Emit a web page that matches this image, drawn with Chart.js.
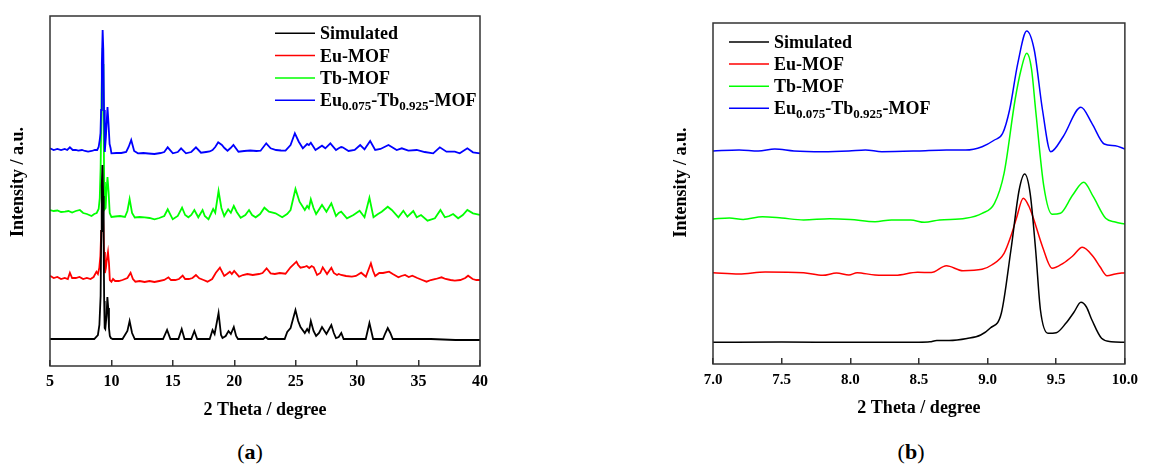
<!DOCTYPE html>
<html>
<head>
<meta charset="utf-8">
<script src="https://cdn.jsdelivr.net/npm/chart.js@4.4.1/dist/chart.umd.min.js"></script>
<style>
  body { margin: 0; background: #fff; width: 1151px; height: 464px; position: relative; overflow: hidden; }
  canvas { position: absolute; top: 0; }
  #chartA { left: 0; }
  #chartB { left: 640px; }
  .cap { position: absolute; top: 439px; width: 60px; text-align: center; font-family: "Liberation Serif", serif; font-size: 22px; line-height: 26px; }
</style>
</head>
<body>
<canvas id="chartA" width="500" height="430"></canvas>
<canvas id="chartB" width="511" height="430"></canvas>
<div class="cap" style="left:220px">(<b>a</b>)</div>
<div class="cap" style="left:881px">(<b>b</b>)</div>
<script>
// legend labels, _{...} marks a subscript
const seriesLabels = ["Simulated", "Eu-MOF", "Tb-MOF", "Eu_{0.075}-Tb_{0.925}-MOF"];
const seriesColors = ["#000000", "#ff0000", "#00ff00", "#0000ff"];
const xTitle = "2 Theta / degree";
const yTitle = "Intensity / a.u.";

// (a) full pattern, [2theta, intensity a.u. incl. stacking offset]
const simulatedA = [
  [5.0, 27], [8.6, 27], [8.9, 31], [9.02, 41], [9.12, 70], [9.17, 135], [9.21, 180], [9.27, 201], [9.33, 170],
  [9.37, 120], [9.41, 65], [9.45, 38], [9.5, 37], [9.6, 50], [9.67, 69], [9.74, 58], [9.8, 38],
  [9.87, 30], [9.95, 28], [10.1, 27],
  [10.9, 27], [11.3, 35], [11.48, 45], [11.68, 33], [11.9, 27],
  [14.2, 27], [14.53, 36], [14.8, 27],
  [15.45, 27], [15.72, 37], [15.95, 27],
  [16.5, 27], [16.75, 35], [16.98, 27],
  [18.0, 27], [18.23, 36], [18.4, 32], [18.72, 53], [18.92, 31], [19.04, 28], [19.3, 30], [19.53, 35], [19.72, 32],
  [19.96, 39], [20.15, 30], [20.3, 27],
  [22.35, 27], [22.56, 29], [22.75, 27],
  [24.1, 27], [24.31, 34], [24.58, 38], [24.98, 56], [25.2, 45], [25.39, 39], [25.74, 33], [25.93, 37], [26.07, 34],
  [26.23, 45], [26.45, 35], [26.66, 30], [26.9, 33], [27.14, 39], [27.5, 32], [27.9, 41], [28.1, 33], [28.28, 28],
  [28.5, 29], [28.71, 33], [28.9, 27],
  [30.7, 27], [31.0, 43], [31.3, 27],
  [32.1, 27], [32.3, 33], [32.49, 38], [32.7, 33], [32.9, 27],
  [36.0, 27], [38.0, 26], [40.0, 26]
];
const euMofA = [
  [5.0, 90.3], [5.3, 88], [5.6, 89], [5.9, 87], [6.2, 88], [6.45, 87], [6.62, 93.3], [6.8, 88], [7.1, 88], [7.4, 89],
  [7.7, 87], [8.0, 88], [8.3, 87], [8.55, 89], [8.78, 94.3], [8.9, 92], [9.01, 98], [9.1, 110], [9.17, 135],
  [9.22, 155], [9.26, 164], [9.3, 158], [9.35, 138], [9.4, 114], [9.47, 93], [9.55, 98], [9.62, 106], [9.72, 114],
  [9.8, 103], [9.87, 86],
  [10.0, 84.3], [10.13, 87], [10.3, 85], [10.6, 85], [10.9, 86], [11.3, 88], [11.56, 93.3], [11.75, 87], [11.95, 84.3],
  [12.3, 85], [12.7, 84], [13.1, 85], [13.5, 84], [13.9, 85], [14.3, 86], [14.64, 88.7], [14.85, 86], [15.2, 86],
  [15.5, 87], [15.8, 90.3], [16.0, 87], [16.3, 87], [16.6, 88], [16.88, 91], [17.15, 87.7], [17.5, 86], [17.82, 84.3],
  [18.2, 87], [18.5, 93.3], [18.83, 98.3], [19.18, 90], [19.4, 92], [19.64, 94.3], [19.8, 92], [19.99, 95],
  [20.39, 89.3], [20.7, 91], [21.07, 92], [21.5, 91], [22.01, 92], [22.3, 93], [22.63, 97.7], [22.96, 92.7],
  [23.3, 92], [23.7, 93], [24.17, 92.3], [24.58, 98.7], [25.06, 104.3], [25.2, 101], [25.39, 98.3], [25.7, 99],
  [25.9, 100], [26.1, 98], [26.3, 100], [26.47, 98.7], [26.74, 91], [27.0, 93], [27.2, 98.7], [27.55, 92],
  [27.9, 98.3], [28.1, 93], [28.36, 91], [28.5, 92], [28.7, 91], [29.1, 90], [29.57, 89.3], [29.9, 90], [30.33, 93.3],
  [30.71, 89.3], [31.12, 102.7], [31.3, 95], [31.47, 90], [31.8, 93], [32.1, 93], [32.6, 94.3], [32.9, 92],
  [33.36, 88.7], [33.6, 90], [33.9, 91], [34.2, 89], [34.49, 90.3], [34.9, 88], [35.3, 86], [35.65, 84.3], [36.0, 86],
  [36.4, 87], [36.87, 88.7], [37.2, 87], [37.6, 86], [37.95, 85.3], [38.4, 86], [38.8, 88], [39.03, 90.3], [39.4, 87],
  [39.7, 86], [40.0, 86]
];
const tbMofA = [
  [5.0, 156], [5.3, 155], [5.6, 155.5], [5.9, 154], [6.22, 154.3], [6.5, 155], [6.8, 153.5], [7.1, 155], [7.43, 156],
  [7.7, 153], [8.0, 152], [8.38, 150], [8.6, 152], [8.8, 153], [8.96, 157], [9.05, 168], [9.12, 198], [9.2, 271],
  [9.245, 302], [9.285, 318], [9.32, 302], [9.35, 261], [9.41, 184], [9.47, 157], [9.53, 158], [9.6, 176], [9.68, 189],
  [9.77, 174], [9.86, 153], [10.0, 149], [10.3, 149.5], [10.7, 150], [11.1, 149], [11.3, 155], [11.48, 167],
  [11.68, 153], [11.9, 148.5], [12.3, 149], [12.7, 148.7], [13.1, 148], [13.5, 146.7], [13.9, 148], [14.3, 150],
  [14.58, 156.7], [14.99, 146.7], [15.4, 150], [15.75, 158.3], [16.0, 151], [16.26, 148.7], [16.5, 151], [16.75, 156],
  [17.07, 148.7], [17.42, 156], [17.6, 150], [17.9, 146.7], [18.1, 152], [18.28, 157], [18.45, 153.3], [18.72, 175],
  [18.95, 158], [19.18, 150], [19.5, 156.7], [19.72, 153.3], [19.96, 160], [20.2, 154], [20.52, 148.3], [20.9, 151],
  [21.2, 156], [21.45, 151], [21.74, 148.7], [22.1, 152], [22.45, 158.3], [22.82, 154.3], [23.36, 152.7], [23.9, 148.7],
  [24.3, 152], [24.58, 156], [24.98, 177], [25.31, 164.3], [25.74, 156], [25.93, 160], [26.07, 157.7], [26.23, 166.7],
  [26.45, 158], [26.66, 152], [27.14, 161], [27.5, 154.3], [27.9, 162.7], [28.28, 150], [28.5, 153], [28.7, 154.3],
  [29.17, 147.7], [29.7, 151], [30.2, 155.3], [30.6, 148.7], [31.0, 168.3], [31.33, 148.7], [31.7, 152], [32.0, 154.3],
  [32.49, 159.3], [32.82, 156], [33.36, 148.7], [33.76, 155.3], [34.09, 149.3], [34.57, 155], [34.85, 148.7],
  [35.2, 151], [35.73, 145.3], [36.33, 147.7], [36.78, 156], [37.14, 148.7], [37.5, 150], [37.81, 152], [38.22, 147.7],
  [38.6, 151], [38.97, 156], [39.43, 152.7], [40.0, 151]
];
const euTbMofA = [
  [5.0, 217.7], [5.3, 216], [5.6, 217], [5.9, 216], [6.2, 217], [6.4, 216], [6.62, 218.7], [6.85, 216], [7.1, 216],
  [7.3, 215.3], [7.6, 216], [7.85, 215], [8.1, 214.3], [8.4, 215], [8.65, 216], [8.84, 216], [8.96, 219], [9.05, 226],
  [9.11, 233], [9.16, 256], [9.22, 303], [9.285, 336], [9.34, 316], [9.4, 256], [9.46, 214], [9.55, 229], [9.68, 259],
  [9.76, 243], [9.85, 222], [9.93, 218], [10.0, 212.7], [10.4, 213], [10.8, 213], [11.2, 214], [11.4, 219],
  [11.61, 226], [11.85, 215], [12.16, 212.7], [12.6, 213], [13.0, 212.5], [13.5, 212], [14.0, 213], [14.3, 214],
  [14.58, 218.7], [15.0, 212.7], [15.4, 214], [15.67, 217.7], [16.07, 212.7], [16.5, 214], [16.88, 218.7],
  [17.29, 213.3], [17.7, 214], [18.0, 214.5], [18.23, 216], [18.45, 219], [18.69, 223.7], [18.99, 221], [19.2, 218],
  [19.45, 215.3], [19.7, 218], [19.93, 221], [20.34, 214.3], [20.8, 215], [21.3, 215.5], [21.8, 215], [22.14, 215.3],
  [22.6, 222.7], [22.96, 217.7], [23.4, 216], [23.8, 215.5], [24.17, 215.3], [24.58, 221], [24.93, 232.7],
  [25.25, 224.3], [25.58, 217.7], [25.93, 222], [26.07, 221], [26.23, 223.3], [26.61, 216], [27.14, 220.3],
  [27.41, 217.7], [27.82, 222.7], [28.28, 216], [28.5, 217.7], [28.7, 219], [28.82, 218.7], [29.3, 215], [29.8, 216],
  [30.25, 221], [30.6, 216.7], [31.06, 225], [31.47, 216], [31.9, 217], [32.55, 221], [33.22, 216], [33.63, 217.7],
  [34.17, 215.3], [34.85, 216], [35.5, 214], [36.19, 212.7], [36.73, 218.7], [37.27, 214.3], [37.95, 214.3],
  [38.35, 212.7], [38.97, 217.7], [39.43, 213.7], [40.0, 212.7]
];

// (b) zoom 7-10 degree
const simulatedB = [
  [7.0, 21.7], [7.5, 21.9], [8.0, 21.8], [8.5, 21.8], [8.58, 22.2], [8.63, 23.5], [8.72, 23.5], [8.85, 25.5],
  [8.95, 29], [9.02, 36], [9.1, 50.7], [9.17, 114], [9.23, 174], [9.27, 190], [9.31, 170.7], [9.35, 114],
  [9.385, 54], [9.44, 30.7], [9.5, 31.3], [9.57, 40.7], [9.63, 52], [9.68, 61.7], [9.72, 57], [9.76, 44],
  [9.83, 25.7], [9.9, 22.3], [10.0, 21.7]
];
const euMofB = [
  [7.0, 91.3], [7.19, 90], [7.38, 92], [7.66, 91.3], [7.8, 88.7], [7.9, 91], [7.99, 89], [8.05, 91.3], [8.18, 89],
  [8.33, 88.7], [8.49, 91.7], [8.59, 91.5], [8.7, 98.3], [8.82, 93.3], [8.96, 94.7], [9.03, 99], [9.12, 110.7],
  [9.17, 128], [9.21, 145.7], [9.26, 165.7], [9.3, 158], [9.33, 147.3], [9.4, 117.3], [9.47, 95.7], [9.55, 100.7],
  [9.62, 108], [9.69, 116.7], [9.77, 107.3], [9.82, 97], [9.87, 88.3], [9.93, 90], [10.0, 91.3]
];
const tbMofB = [
  [7.0, 145], [7.12, 146], [7.22, 144.5], [7.36, 147.3], [7.5, 146], [7.66, 144], [7.85, 145.3], [8.0, 144.5],
  [8.18, 142.3], [8.3, 144], [8.44, 144], [8.54, 141.7], [8.65, 144], [8.84, 145.7], [8.96, 150.7], [9.05, 160.7],
  [9.12, 190.7], [9.2, 264], [9.245, 295], [9.285, 310.7], [9.32, 295], [9.35, 254], [9.41, 177.3], [9.47, 149.7],
  [9.53, 150.7], [9.62, 169], [9.7, 181.7], [9.77, 167.3], [9.86, 145.7], [9.93, 142], [10.0, 140]
];
const euTbMofB = [
  [7.0, 213], [7.19, 214], [7.33, 213], [7.45, 215], [7.59, 213], [7.8, 212.3], [7.99, 213], [8.11, 214],
  [8.23, 212.3], [8.49, 213], [8.7, 214], [8.84, 214], [8.96, 217.3], [9.05, 224], [9.11, 230.7], [9.16, 254],
  [9.22, 300.7], [9.285, 333], [9.34, 314], [9.4, 254], [9.46, 212.3], [9.55, 227.3], [9.68, 256.7], [9.76, 240.7],
  [9.85, 220], [9.93, 218.3], [10.0, 215]
];

Chart.defaults.font.family = "'Liberation Serif', 'Times New Roman', serif";
Chart.defaults.font.weight = "bold";
Chart.defaults.color = "#000";

// draw text with _{sub} parts
function drawRich(ctx, text, x, y, size) {
  const parts = text.split(/_\{([^}]*)\}/);
  parts.forEach(function (p, i) {
    const sub = i % 2 === 1;
    ctx.font = "bold " + (sub ? 13 : size) + "px 'Liberation Serif'";
    ctx.fillText(p, x, sub ? y + 4 : y);
    x += ctx.measureText(p).width;
  });
}

// frame box, in-plot legend and y title
const framePlugin = {
  id: "frame",
  afterDatasetsDraw(chart, args, opts) {
    const { ctx, chartArea: a } = chart;
    ctx.save();
    ctx.strokeStyle = "#333";
    ctx.lineWidth = 1.5;
    ctx.strokeRect(a.left, a.top, a.right - a.left, a.bottom - a.top);

    ctx.fillStyle = "#000";
    ctx.textBaseline = "alphabetic";
    ctx.textAlign = "left";
    seriesLabels.forEach(function (label, i) {
      const y = opts.rowY + i * opts.rowGap;
      ctx.strokeStyle = seriesColors[i];
      ctx.lineWidth = 1.5;
      ctx.beginPath();
      ctx.moveTo(opts.lineX1, y);
      ctx.lineTo(opts.lineX2, y);
      ctx.stroke();
      drawRich(ctx, label, opts.textX, y + 6, 18);
    });

    ctx.translate(opts.yTitleX, opts.yTitleY);
    ctx.rotate(-Math.PI / 2);
    ctx.textAlign = "center";
    ctx.textBaseline = "middle";
    ctx.font = "bold 18px 'Liberation Serif'";
    ctx.fillText(yTitle, 0, 0);
    ctx.restore();
  },
};

function makeChart(id, series, cfg) {
  const order = [0, 2, 3, 1];
  return new Chart(document.getElementById(id), {
    type: "line",
    data: {
      datasets: series.map(function (pts, i) {
        return {
          label: seriesLabels[i],
          data: pts.map((p) => ({ x: p[0], y: p[1] })),
          borderColor: seriesColors[i],
          borderWidth: cfg.lineW,
          pointRadius: 0,
          fill: false,
          order: order[i],
          tension: cfg.smooth ? 0.4 : 0,
          cubicInterpolationMode: cfg.smooth ? "monotone" : "default",
        };
      }),
    },
    options: {
      responsive: false,
      animation: false,
      devicePixelRatio: 1,
      layout: { padding: { left: 0, right: cfg.padRight, top: cfg.padTop, bottom: 0 } },
      plugins: {
        legend: { display: false },
        tooltip: { enabled: false },
        frame: cfg.frame,
      },
      scales: {
        x: {
          type: "linear",
          min: cfg.xMin,
          max: cfg.xMax,
          grid: { display: true, drawOnChartArea: false, drawTicks: true, tickLength: -6, color: "#333", lineWidth: 1.5 },
          border: { display: false },
          ticks: {
            stepSize: cfg.xStep,
            padding: cfg.tickPad,
            autoSkip: false,
            maxRotation: 0,
            color: "#000",
            font: { size: cfg.tickSize, weight: "bold" },
            callback: cfg.tickFmt,
          },
          title: { display: true, text: xTitle, color: "#000", font: { size: 18, weight: "bold" }, padding: { top: 0, bottom: cfg.titlePad } },
          afterFit(axis) {
            axis.height = cfg.xAxisH;
          },
        },
        y: {
          min: 0,
          max: cfg.yMax,
          ticks: { display: false },
          grid: { display: false },
          border: { display: false },
          afterFit(axis) {
            axis.width = cfg.yAxisW;
          },
        },
      },
    },
    plugins: [framePlugin],
  });
}

makeChart("chartA", [simulatedA, euMofA, tbMofA, euTbMofA], {
  xMin: 5, xMax: 40, xStep: 5, yMax: 350,
  padRight: 18, padTop: 16, yAxisW: 50, xAxisH: 64,
  tickPad: 12, tickSize: 16, titlePad: 9,
  tickFmt: (v) => v,
  smooth: false, lineW: 1.8,
  frame: { lineX1: 275, lineX2: 315, textX: 320, rowY: 33.3, rowGap: 22.3, yTitleX: 18, yTitleY: 182 },
});

makeChart("chartB", [simulatedB, euMofB, tbMofB, euTbMofB], {
  xMin: 7, xMax: 10, xStep: 0.5, yMax: 341,
  padRight: 14, padTop: 23, yAxisW: 73, xAxisH: 66,
  tickPad: 13, tickSize: 15, titlePad: 11,
  tickFmt: (v) => v.toFixed(1),
  smooth: true, lineW: 1.5,
  frame: { lineX1: 89, lineX2: 129, textX: 134, rowY: 42, rowGap: 22.1, yTitleX: 41.5, yTitleY: 182.5 },
});
</script>
</body>
</html>
